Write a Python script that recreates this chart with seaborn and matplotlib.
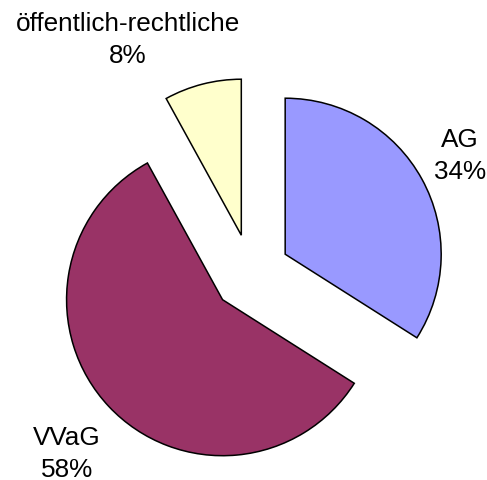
import matplotlib
matplotlib.use("Agg")
import matplotlib.pyplot as plt
import seaborn as sns

sns.set_style("white")
plt.rcParams['font.family'] = ['Liberation Sans', 'DejaVu Sans']

categories = ["AG", "VVaG", "öffentlich-rechtliche"]
shares = [34, 58, 8]
colors = ["#9999FF", "#993366", "#FFFFCC"]
explode = [0.25, 0.25, 0.25]

W, H = 487, 480
fig = plt.figure(figsize=(W / 100, H / 100), dpi=100)
ax = fig.add_axes([0, 0, 1, 1])
R = 156.0
cx, cy = 251.0, 273.0
ax.pie(shares, colors=colors, explode=explode, startangle=90, counterclock=False,
       radius=1.0, wedgeprops=dict(edgecolor="black", linewidth=1.1))
ax.set_aspect('auto')
ax.set_xlim(-cx / R, (W - cx) / R)
ax.set_ylim(-(H - cy) / R, cy / R)
ax.axis('off')

label_pos = [(460, 156), (67, 454), (128, 40)]
for cat, val, (px, py) in zip(categories, shares, label_pos):
    fig.text(px / W, 1 - py / H, f"{cat}\n{val}%", ha='center', va='center',
             fontsize=18.8, linespacing=1.45, color='black')

fig.savefig("out.png", dpi=100, facecolor='white')
